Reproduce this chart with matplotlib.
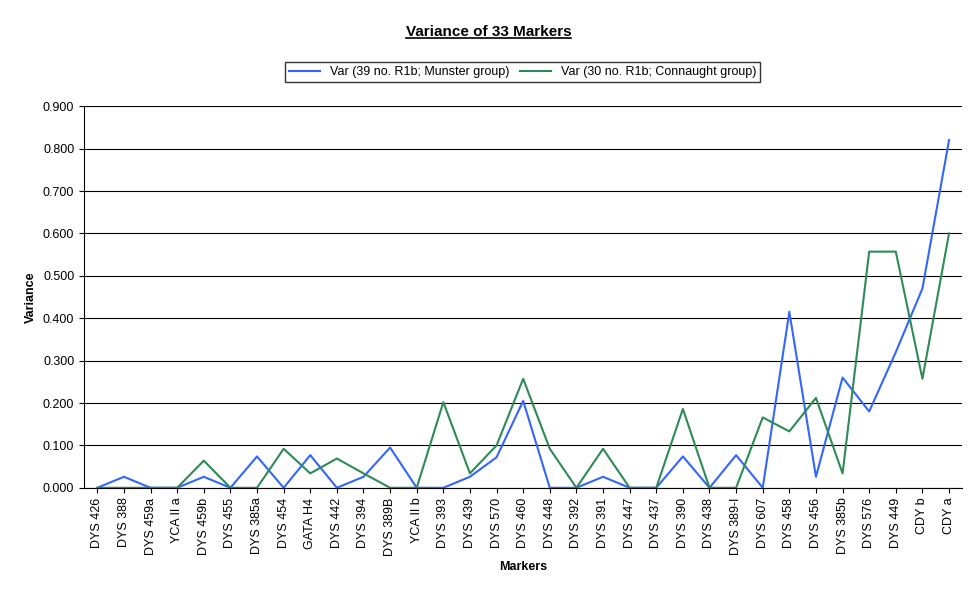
import matplotlib
matplotlib.use("Agg")
import matplotlib.pyplot as plt
from matplotlib.lines import Line2D

markers = ["DYS 426", "DYS 388", "DYS 459a", "YCA II a", "DYS 459b", "DYS 455", "DYS 385a",
           "DYS 454", "GATA H4", "DYS 442", "DYS 394", "DYS 389B", "YCA II b", "DYS 393",
           "DYS 439", "DYS 570", "DYS 460", "DYS 448", "DYS 392", "DYS 391", "DYS 447",
           "DYS 437", "DYS 390", "DYS 438", "DYS 389-I", "DYS 607", "DYS 458", "DYS 456",
           "DYS 385b", "DYS 576", "DYS 449", "CDY b", "CDY a"]
munster = [0, 0.026, 0, 0, 0.026, 0, 0.074, 0, 0.077, 0, 0.026, 0.095, 0, 0, 0.026, 0.072,
           0.205, 0, 0, 0.026, 0, 0, 0.074, 0, 0.077, 0, 0.415, 0.026, 0.26, 0.18, 0.32,
           0.47, 0.82]
connaught = [0, 0, 0, 0, 0.064, 0, 0, 0.092, 0.034, 0.069, 0.034, 0, 0, 0.202, 0.034, 0.1,
             0.257, 0.092, 0, 0.092, 0, 0, 0.186, 0, 0, 0.166, 0.133, 0.212, 0.034, 0.557,
             0.557, 0.257, 0.6]

plt.rcParams['font.family'] = ['Liberation Sans', 'DejaVu Sans']
fig = plt.figure(figsize=(9.77, 6.0), dpi=100)
ax = fig.add_axes([0.086, 0.187, 0.899, 0.636])
x = range(len(markers))
ax.plot(x, munster, color='#3366ff', lw=1.5, label='Var (39 no. R1b; Munster group)')
ax.plot(x, connaught, color='#2e8b57', lw=1.5, label='Var (30 no. R1b; Connaught group)')
ax.set_xlim(-0.5, len(markers) - 0.5)
ax.set_ylim(0, 0.9)
ax.set_yticks([i / 10 for i in range(10)])
ax.set_yticklabels(['%.3f' % (i / 10) for i in range(10)], fontsize=9)
ax.set_xticks(list(x))
ax.set_xticklabels(markers, rotation=90, fontsize=9)
ax.yaxis.grid(True, color='black', lw=0.8)
ax.set_axisbelow(True)
for s in ['top', 'right']:
    ax.spines[s].set_visible(False)
ax.set_xlabel('Markers', fontsize=9, fontweight='bold')
ax.set_ylabel('Variance', fontsize=9, fontweight='bold')

title = fig.text(0.5, 0.94, 'Variance of 33 Markers', ha='center', fontsize=11, fontweight='bold')
fig.canvas.draw()
bb = title.get_window_extent().transformed(fig.transFigure.inverted())
fig.add_artist(Line2D([bb.x0, bb.x1], [bb.y0 + 0.002, bb.y0 + 0.002], color='black', lw=1.2,
                      transform=fig.transFigure))

fig.legend(loc='center', bbox_to_anchor=(0.535, 0.88), ncol=2, fontsize=9,
           frameon=True, fancybox=False, edgecolor='black', handlelength=2.5,
           columnspacing=0.8, borderpad=0.3)
plt.savefig('out.png')
